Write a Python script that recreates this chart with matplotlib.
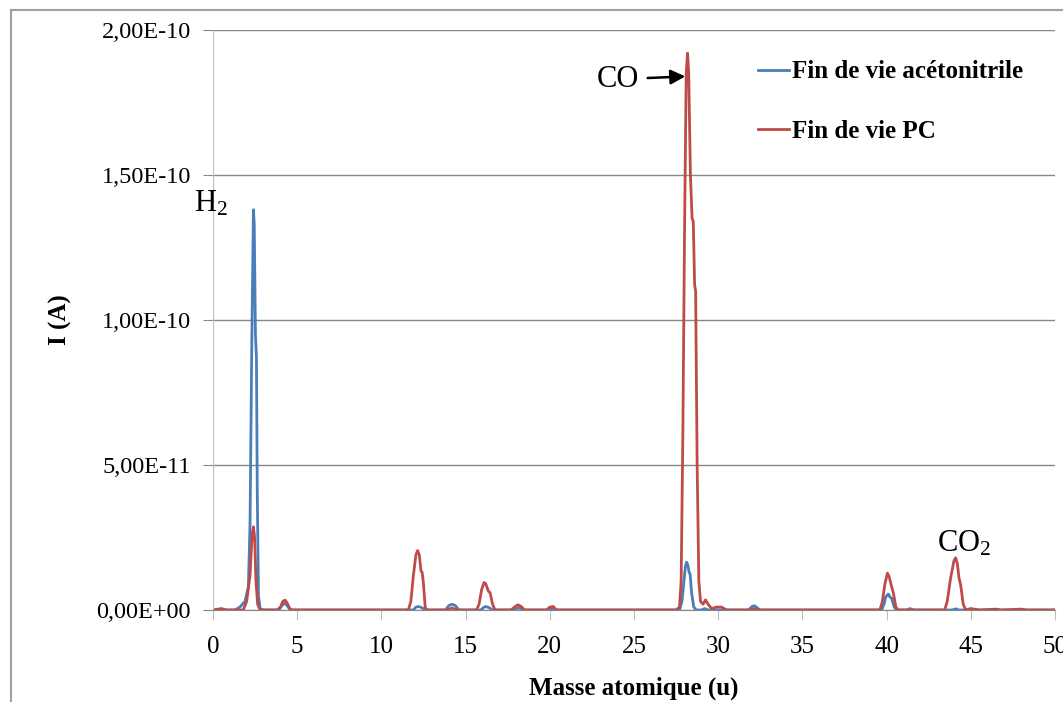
import numpy as np
import matplotlib.pyplot as plt
from matplotlib.ticker import FuncFormatter, MultipleLocator

plt.rcParams['font.family'] = ['Liberation Serif', 'DejaVu Serif']
plt.rcParams['mathtext.fontset'] = 'custom'
plt.rcParams['mathtext.rm'] = 'Liberation Serif'
plt.rcParams['mathtext.it'] = 'Liberation Serif:italic'
plt.rcParams['mathtext.bf'] = 'Liberation Serif:bold'

# intensities in units of 1e-11 A
x_acn = [0, 1.3, 1.6, 1.9, 2.1, 2.2, 2.3, 2.4, 2.45, 2.52, 2.58, 2.63, 2.7, 2.8, 3.0,
         3.9, 4.1, 4.25, 4.4, 4.6,
         11.9, 12.05, 12.2, 12.4, 12.6,
         13.8, 14.0, 14.2, 14.4, 14.6,
         15.9, 16.1, 16.2, 16.4, 16.6,
         17.9, 18.1, 18.3, 18.5,
         19.9, 20.1, 20.3,
         27.7, 27.85, 27.95, 28.05, 28.12, 28.2, 28.27, 28.33, 28.42, 28.55, 28.7,
         29.0, 29.2, 29.4,
         31.8, 32.0, 32.15, 32.3, 32.5,
         39.7, 39.85, 39.95, 40.1, 40.2, 40.3, 40.45, 40.6,
         41.2, 41.4, 41.6,
         43.9, 44.1, 44.3, 50]
y_acn = [0, 0, 0.1, 0.3, 0.8, 3.0, 9.0, 13.8, 13.3, 9.5, 8.7, 4.0, 0.5, 0.05, 0,
         0, 0.15, 0.25, 0.15, 0,
         0, 0.1, 0.12, 0.08, 0,
         0, 0.15, 0.2, 0.15, 0,
         0, 0.1, 0.12, 0.08, 0,
         0, 0.07, 0.05, 0,
         0, 0.05, 0,
         0, 0.3, 0.9, 1.5, 1.65, 1.55, 1.3, 1.25, 0.6, 0.1, 0,
         0, 0.05, 0,
         0, 0.12, 0.15, 0.08, 0,
         0, 0.2, 0.45, 0.55, 0.45, 0.4, 0.1, 0,
         0, 0.05, 0,
         0, 0.04, 0, 0]

x_pc = [0, 0.5, 0.8, 1.8, 2.0, 2.2, 2.32, 2.4, 2.47, 2.55, 2.65, 2.8,
        3.8, 4.0, 4.15, 4.28, 4.4, 4.55, 4.7,
        11.6, 11.75, 11.9, 12.05, 12.15, 12.25, 12.35, 12.42, 12.5, 12.6, 12.7,
        13.9, 14.2, 14.5,
        15.65, 15.8, 15.95, 16.1, 16.2, 16.35, 16.45, 16.6, 16.75,
        17.7, 17.9, 18.1, 18.3, 18.5,
        19.8, 20.0, 20.2, 20.4,
        27.5, 27.7, 27.8, 27.9, 28.0, 28.1, 28.18, 28.25, 28.35, 28.45, 28.52, 28.6, 28.66,
        28.75, 28.85, 28.95, 29.1, 29.25, 29.4, 29.6, 29.9, 30.2, 30.5,
        31.9, 32.1, 32.3,
        39.6, 39.75, 39.9, 40.05, 40.15, 40.3, 40.4, 40.55, 40.7,
        43.45, 43.6, 43.8, 44.0, 44.1, 44.2, 44.3, 44.4, 44.55, 44.7,
        45.0, 45.5, 46.5, 46.8, 48.0, 48.3, 50]
y_pc = [0, 0.05, 0, 0, 0.3, 1.2, 2.6, 2.87, 2.5, 1.0, 0.2, 0,
        0, 0.1, 0.3, 0.34, 0.25, 0.05, 0,
        0, 0.3, 1.2, 1.9, 2.05, 1.9, 1.35, 1.3, 0.9, 0.1, 0,
        0, 0.07, 0,
        0, 0.2, 0.7, 0.95, 0.9, 0.65, 0.6, 0.2, 0,
        0, 0.1, 0.18, 0.12, 0,
        0, 0.1, 0.12, 0,
        0, 0.1, 1.0, 6.0, 13.0, 18.5, 19.2, 18.5, 15.0, 13.5, 13.4, 11.2, 11.0,
        5.0, 1.0, 0.3, 0.2, 0.35, 0.2, 0.05, 0.1, 0.1, 0,
        0, 0.05, 0,
        0, 0.3, 0.9, 1.27, 1.15, 0.8, 0.6, 0.1, 0,
        0, 0.3, 1.1, 1.7, 1.8, 1.6, 1.1, 0.86, 0.2, 0,
        0.05, 0, 0.03, 0, 0.03, 0, 0]

blue = '#4A7EBB'
red = '#BE4B48'

fig = plt.figure(figsize=(10.63, 7.02), dpi=100)
ax = fig.add_axes([213/1063, 1-610/702, 842/1063, 580/702])

ax.plot(x_acn, np.array(y_acn)*1e-11, color=blue, lw=2.0, label='Fin de vie acétonitrile')
ax.plot(x_pc, np.array(y_pc)*1e-11, color=red, lw=2.0, label='Fin de vie PC')

ax.set_xlim(0, 50)
ax.set_ylim(0, 2e-10)
ax.xaxis.set_major_locator(MultipleLocator(5))
ax.yaxis.set_major_locator(MultipleLocator(5e-11))
ax.yaxis.set_major_formatter(FuncFormatter(lambda v, p: '{:.2E}'.format(v).replace('.', ',')))
ax.grid(axis='y', color='#868686', lw=1)
ax.set_axisbelow(True)
for s in ['top', 'right']:
    ax.spines[s].set_visible(False)
ax.spines['left'].set_color('#BFBFBF')
ax.spines['bottom'].set_color('#868686')
ax.tick_params(axis='y', length=7, color='#868686', pad=9, labelsize=17.5)
ax.tick_params(axis='x', length=7, color='#BFBFBF', pad=12, labelsize=18)

ax.set_xlabel('Masse atomique (u)', fontsize=18, fontweight='bold')
ax.set_ylabel('I (A)', fontsize=18, fontweight='bold')
ax.xaxis.set_label_coords(0.5, -0.115)
ax.yaxis.set_label_coords(-0.167, 0.5)

ax.text(-1.1, 1.4e-10, 'H$_2$', fontsize=22, va='center', ha='left', clip_on=False)
ax.annotate('CO', xy=(28.05, 1.84e-10), xytext=(22.8, 1.83e-10), fontsize=22,
            va='center', ha='left',
            arrowprops=dict(arrowstyle='-|>', color='black', lw=1.8, mutation_scale=22,
                            shrinkA=4, shrinkB=0))
ax.text(44.6, 2.3e-11, 'CO$_2$', fontsize=22, va='center', ha='center')

ax.legend(loc='upper left', bbox_to_anchor=(735/1063, 1-38/702), bbox_transform=fig.transFigure,
          frameon=False, prop={'weight': 'bold', 'size': 18}, handlelength=1.25,
          handletextpad=0.15, labelspacing=1.45)

# outer chart frame
fig.add_artist(plt.Line2D([11/1063, 11/1063], [0, 1-10/702], color='#A0A0A0', lw=1.5,
                          transform=fig.transFigure))
fig.add_artist(plt.Line2D([11/1063, 1], [1-10/702, 1-10/702], color='#A0A0A0', lw=1.5,
                          transform=fig.transFigure))

fig.savefig('out.png', dpi=100)
